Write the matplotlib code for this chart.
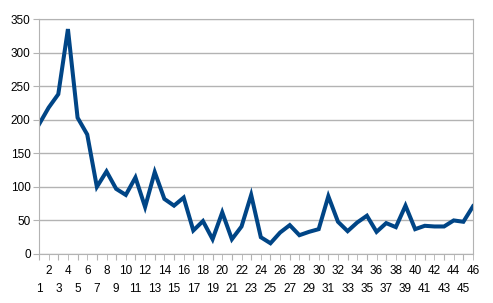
import matplotlib
matplotlib.use("Agg")
import matplotlib.pyplot as plt

x = list(range(1, 47))
values = [193, 218, 238, 335, 203, 178, 100, 123, 97, 88,
          114, 70, 122, 82, 72, 84, 35, 49, 22, 62,
          22, 41, 88, 25, 16, 32, 43, 28, 33, 37,
          86, 48, 34, 47, 57, 33, 46, 40, 72, 37,
          42, 41, 41, 50, 48, 71]
yticks = [0, 50, 100, 150, 200, 250, 300, 350]

plt.rcParams['font.family'] = ['Liberation Sans', 'DejaVu Sans']
fig = plt.figure(figsize=(4.93, 3.03), dpi=100)
ax = fig.add_axes([39/493, 49/303, 434/493, 235/303])
ax.plot(x, values, color='#004586', linewidth=2.9, solid_joinstyle='miter')
ax.set_xlim(1, 46)
ax.set_ylim(0, 350)
ax.set_yticks(yticks)
ax.grid(axis='y', color='#b3b3b3', linewidth=1)
ax.set_axisbelow(True)

odd = [v for v in x if v % 2 == 1]
even = [v for v in x if v % 2 == 0]
ax.set_xticks(odd)
ax.set_xticklabels([str(v) for v in odd])
ax.set_xticks(even, minor=True)
ax.set_xticklabels([str(v) for v in even], minor=True)
ax.tick_params(axis='x', which='major', length=4, pad=17, color='#b3b3b3', labelsize=8.5)
ax.tick_params(axis='x', which='minor', length=4, pad=4, color='#b3b3b3', labelsize=8.5)
ax.tick_params(axis='y', length=4, pad=2, color='#b3b3b3', labelsize=8.5)
for s in ax.spines.values():
    s.set_color('#b3b3b3')
fig.savefig('out.png', dpi=100)
